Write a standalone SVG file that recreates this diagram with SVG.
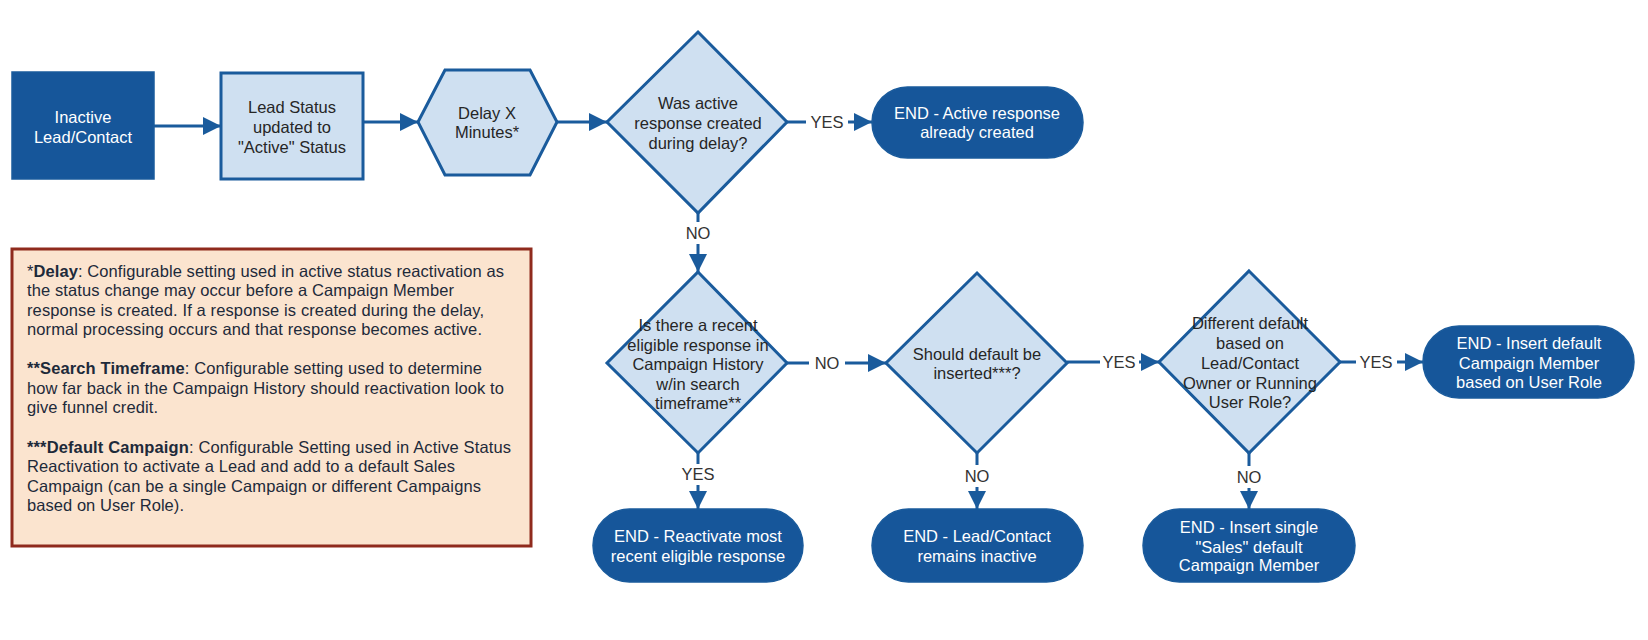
<svg xmlns="http://www.w3.org/2000/svg" width="1648" height="640" viewBox="0 0 1648 640">
<defs>
<style>
text{font-family:"Liberation Sans",Arial,sans-serif;font-size:16.5px;text-anchor:middle}
.dark{fill:#16569a;stroke:#1a5b9c;stroke-width:1.5}
.light{fill:#cfe0f1;stroke:#1a5b9c;stroke-width:3}
.wt{fill:#ffffff}
.bt{fill:#262626}
.lbl{fill:#333333}
.conn{fill:none;stroke:#1a5b9c;stroke-width:3}
.note{fill:#fbe4cf;stroke:#8f2a1d;stroke-width:3}
.nt{text-anchor:start;fill:#1e2a3a;font-size:16.5px}
</style>
<marker id="ah" markerUnits="userSpaceOnUse" markerWidth="19" markerHeight="19" refX="18" refY="9" orient="auto">
<path d="M0,0 L18,9 L0,18 Z" fill="#1a5b9c"/>
</marker>
</defs>
<rect width="1648" height="640" fill="#ffffff"/>

<g id="connectors">
<path class="conn" d="M154,126 H221" marker-end="url(#ah)"/>
<path class="conn" d="M363,122 H418" marker-end="url(#ah)"/>
<path class="conn" d="M557,122 H607" marker-end="url(#ah)"/>
<path class="conn" d="M787,122 H806 M848,122 H872" marker-end="url(#ah)"/>
<path class="conn" d="M698,213 V222 M698,244 V272" marker-end="url(#ah)"/>
<path class="conn" d="M698,453 V464 M698,485 V509" marker-end="url(#ah)"/>
<path class="conn" d="M787,363 H809 M845,363 H886" marker-end="url(#ah)"/>
<path class="conn" d="M977,453 V465 M977,487 V509" marker-end="url(#ah)"/>
<path class="conn" d="M1067,362 H1100 M1139,362 H1159" marker-end="url(#ah)"/>
<path class="conn" d="M1249,453 V466 M1249,488 V509" marker-end="url(#ah)"/>
<path class="conn" d="M1340,362 H1356 M1397,362 H1423" marker-end="url(#ah)"/>
<text class="lbl" x="827" y="128">YES</text>
<text class="lbl" x="698" y="239">NO</text>
<text class="lbl" x="698" y="480">YES</text>
<text class="lbl" x="827" y="369">NO</text>
<text class="lbl" x="977" y="482">NO</text>
<text class="lbl" x="1119" y="368">YES</text>
<text class="lbl" x="1249" y="483">NO</text>
<text class="lbl" x="1376" y="368">YES</text>
</g>

<g id="inactive">
<rect class="dark" x="12" y="72" width="142" height="107"/>
<text class="wt" x="83" y="123">Inactive</text>
<text class="wt" x="83" y="143">Lead/Contact</text>
</g>

<g id="lead-status">
<rect class="light" x="221" y="73" width="142" height="106"/>
<text class="bt" x="292" y="113">Lead Status</text>
<text class="bt" x="292" y="133">updated to</text>
<text class="bt" x="292" y="153">"Active" Status</text>
</g>

<g id="delay">
<polygon class="light" points="418,122 445,70 530,70 557,122 530,175 445,175"/>
<text class="bt" x="487" y="119">Delay X</text>
<text class="bt" x="487" y="138">Minutes*</text>
</g>

<g id="d1">
<polygon class="light" points="698,32 787,122 698,213 607,122"/>
<text class="bt" x="698" y="109">Was active</text>
<text class="bt" x="698" y="129">response created</text>
<text class="bt" x="698" y="149">during delay?</text>
</g>

<g id="end-active">
<rect class="dark" x="872" y="87" width="211" height="71" rx="35.5"/>
<text class="wt" x="977" y="119">END - Active response</text>
<text class="wt" x="977" y="138">already created</text>
</g>

<g id="d2">
<polygon class="light" points="698,272 787,363 698,453 607,363"/>
<text class="bt" x="698" y="331">Is there a recent</text>
<text class="bt" x="698" y="350.5">eligible response in</text>
<text class="bt" x="698" y="370">Campaign History</text>
<text class="bt" x="698" y="390">w/in search</text>
<text class="bt" x="698" y="409">timeframe**</text>
</g>

<g id="end-reactivate">
<rect class="dark" x="593" y="509" width="210" height="73" rx="36.5"/>
<text class="wt" x="698" y="542">END - Reactivate most</text>
<text class="wt" x="698" y="562">recent eligible response</text>
</g>

<g id="d3">
<polygon class="light" points="977,273 1067,363 977,453 886,363"/>
<text class="bt" x="977" y="360">Should default be</text>
<text class="bt" x="977" y="379">inserted***?</text>
</g>

<g id="end-inactive">
<rect class="dark" x="872" y="509" width="211" height="73" rx="36.5"/>
<text class="wt" x="977" y="542">END - Lead/Contact</text>
<text class="wt" x="977" y="562">remains inactive</text>
</g>

<g id="d4">
<polygon class="light" points="1249,271 1340,362 1249,453 1159,362"/>
<text class="bt" x="1250" y="329">Different default</text>
<text class="bt" x="1250" y="349">based on</text>
<text class="bt" x="1250" y="369">Lead/Contact</text>
<text class="bt" x="1250" y="389">Owner or Running</text>
<text class="bt" x="1250" y="408">User Role?</text>
</g>

<g id="end-role">
<rect class="dark" x="1423" y="326" width="211" height="72" rx="36"/>
<text class="wt" x="1529" y="349">END - Insert default</text>
<text class="wt" x="1529" y="369">Campaign Member</text>
<text class="wt" x="1529" y="388">based on User Role</text>
</g>

<g id="end-single">
<rect class="dark" x="1143" y="509" width="212" height="73" rx="36.5"/>
<text class="wt" x="1249" y="533">END - Insert single</text>
<text class="wt" x="1249" y="552.5">"Sales" default</text>
<text class="wt" x="1249" y="571">Campaign Member</text>
</g>

<g id="note">
<rect class="note" x="12" y="249" width="519" height="297"/>
<text class="nt" x="27" y="276.5" textLength="477" lengthAdjust="spacing">*<tspan font-weight="bold">Delay</tspan>: Configurable setting used in active status reactivation as</text>
<text class="nt" x="27" y="296" textLength="427" lengthAdjust="spacing">the status change may occur before a Campaign Member</text>
<text class="nt" x="27" y="315.5" textLength="457" lengthAdjust="spacing">response is created. If a response is created during the delay,</text>
<text class="nt" x="27" y="335" textLength="455" lengthAdjust="spacing">normal processing occurs and that response becomes active.</text>
<text class="nt" x="27" y="374" textLength="455" lengthAdjust="spacing"><tspan font-weight="bold">**Search Timeframe</tspan>: Configurable setting used to determine</text>
<text class="nt" x="27" y="393.5" textLength="477" lengthAdjust="spacing">how far back in the Campaign History should reactivation look to</text>
<text class="nt" x="27" y="413" textLength="131" lengthAdjust="spacing">give funnel credit.</text>
<text class="nt" x="27" y="452.5" textLength="484" lengthAdjust="spacing"><tspan font-weight="bold">***Default Campaign</tspan>: Configurable Setting used in Active Status</text>
<text class="nt" x="27" y="472" textLength="428" lengthAdjust="spacing">Reactivation to activate a Lead and add to a default Sales</text>
<text class="nt" x="27" y="491.5" textLength="454" lengthAdjust="spacing">Campaign (can be a single Campaign or different Campaigns</text>
<text class="nt" x="27" y="511" textLength="157" lengthAdjust="spacing">based on User Role).</text>
</g>
</svg>
